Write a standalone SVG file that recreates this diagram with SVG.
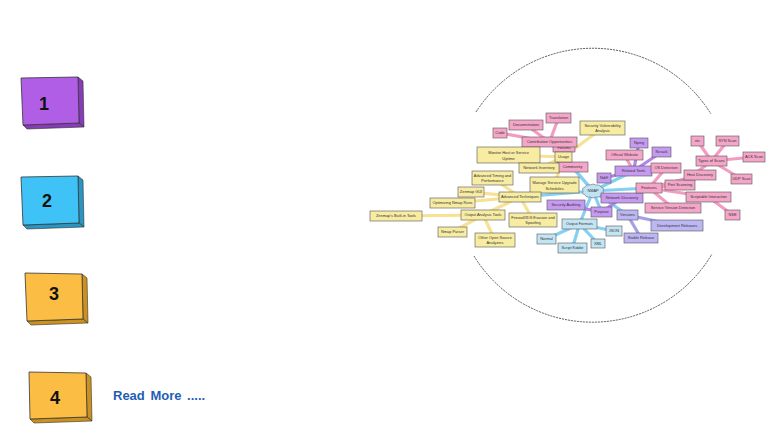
<svg xmlns="http://www.w3.org/2000/svg" width="768" height="432" viewBox="0 0 768 432">
<defs>
<pattern id="hatch" width="2" height="2" patternUnits="userSpaceOnUse" patternTransform="rotate(45)">
<rect width="2" height="2" fill="none"/>
<line x1="0" y1="0" x2="0" y2="2" stroke="#222" stroke-width="0.6" opacity="0.5"/>
</pattern>
</defs>
<style>
.face{stroke:#333;stroke-width:0.8;stroke-linejoin:round}
.side{stroke:#333;stroke-width:0.6}
.num{font-family:"Liberation Sans",Arial,sans-serif;font-weight:bold;font-size:18px;fill:#111;text-anchor:middle}
.more{font-family:"Liberation Sans",Arial,sans-serif;font-weight:bold;font-size:13px;fill:#1f5db5}
.ring{fill:none;stroke:#555;stroke-width:1;stroke-dasharray:2 1}
.n rect{stroke:#555;stroke-width:0.6}
.n text{font-family:"Liberation Sans",Arial,sans-serif;font-size:3.9px;fill:#333;text-anchor:middle}
.pk rect{fill:#f4a6c8}
.yl rect{fill:#f7eca2}
.bl rect{fill:#c3e5f3}
.pu rect{fill:#c69af0}
.lv rect{fill:#bcb6f2}
.e line{stroke-width:3.2;stroke-linecap:round}
.eb{stroke:#85d0f2}
.ey{stroke:#f6e292}
.ep{stroke:#f29cc2}
.eu{stroke:#b385e8}
.el{stroke:#a49fe8}
</style>
<rect width="768" height="432" fill="#fff"/>

<!-- left numbered blocks -->
<g id="box1">
<polygon class="side" points="78,77 83,81 84,127 79,123" fill="#8e3fc4"/>
<polygon class="side" points="23,125 79,123 84,127 27,129" fill="#8e3fc4"/>
<polygon points="78,77 83,81 84,127 79,123" fill="url(#hatch)"/>
<polygon points="23,125 79,123 84,127 27,129" fill="url(#hatch)"/>
<polygon class="face" points="21,78 78,77 79,123 23,125" fill="#b15ee6"/>
<text class="num" x="44" y="110">1</text>
</g>
<g id="box2">
<polygon class="side" points="78,176 83,180 84,227 79,223" fill="#2a9fd0"/>
<polygon class="side" points="23,225 79,223 84,227 27,229" fill="#2a9fd0"/>
<polygon points="78,176 83,180 84,227 79,223" fill="url(#hatch)"/>
<polygon points="23,225 79,223 84,227 27,229" fill="url(#hatch)"/>
<polygon class="face" points="21,177 78,176 79,223 23,225" fill="#3fc3f7"/>
<text class="num" x="47" y="207">2</text>
</g>
<g id="box3">
<polygon class="side" points="82,274 87,278 88,323 83,319" fill="#d99a1f"/>
<polygon class="side" points="27,321 83,319 88,323 31,325" fill="#d99a1f"/>
<polygon points="82,274 87,278 88,323 83,319" fill="url(#hatch)"/>
<polygon points="27,321 83,319 88,323 31,325" fill="url(#hatch)"/>
<polygon class="face" points="25,273 82,274 83,319 27,321" fill="#fbbd43"/>
<text class="num" x="54" y="300">3</text>
</g>
<g id="box4">
<polygon class="side" points="86,373 91,377 92,421 87,417" fill="#d99a1f"/>
<polygon class="side" points="30,419 87,417 92,421 34,423" fill="#d99a1f"/>
<polygon points="86,373 91,377 92,421 87,417" fill="url(#hatch)"/>
<polygon points="30,419 87,417 92,421 34,423" fill="url(#hatch)"/>
<polygon class="face" points="29,372 86,373 87,417 30,419" fill="#fbbd43"/>
<text class="num" x="55" y="404">4</text>
</g>
<text id="readmore" class="more" x="113" y="400" word-spacing="2">Read More .....</text>

<!-- dashed ring -->
<path class="ring" d="M 476,112 A 139 139 0 0 1 711,114"/>
<path class="ring" d="M 474,256 A 139 139 0 0 0 712,254"/>

<!-- connectors -->
<g id="connectors" class="e">
<line class="eb" x1="593" y1="191" x2="563.5" y2="157"/>
<line class="eb" x1="593" y1="191" x2="572.5" y2="167"/>
<line class="eb" x1="593" y1="191" x2="633.5" y2="171"/>
<line class="eb" x1="593" y1="191" x2="649" y2="188"/>
<line class="eb" x1="593" y1="191" x2="601.5" y2="212"/>
<line class="eb" x1="593" y1="191" x2="627.5" y2="215"/>
<line class="eb" x1="593" y1="191" x2="579.5" y2="224"/>
<line class="eb" x1="593" y1="191" x2="520" y2="197"/>
<line class="ey" x1="563.5" y1="157" x2="602.5" y2="128"/>
<line class="ey" x1="563.5" y1="157" x2="508.5" y2="155"/>
<line class="ey" x1="563.5" y1="157" x2="539" y2="168"/>
<line class="ey" x1="563.5" y1="157" x2="554.5" y2="185"/>
<line class="ey" x1="520" y1="197" x2="492.5" y2="178"/>
<line class="ey" x1="520" y1="197" x2="471" y2="192"/>
<line class="ey" x1="520" y1="197" x2="452.5" y2="203"/>
<line class="ey" x1="520" y1="197" x2="483" y2="215"/>
<line class="ey" x1="520" y1="197" x2="533" y2="220"/>
<line class="ey" x1="483" y1="215" x2="396" y2="216"/>
<line class="ey" x1="483" y1="215" x2="452.5" y2="232"/>
<line class="ey" x1="483" y1="215" x2="495" y2="240"/>
<line class="ep" x1="572.5" y1="167" x2="564" y2="147.5"/>
<line class="ep" x1="572.5" y1="167" x2="549.5" y2="142"/>
<line class="ep" x1="549.5" y1="142" x2="526" y2="125"/>
<line class="ep" x1="549.5" y1="142" x2="558.5" y2="118"/>
<line class="ep" x1="549.5" y1="142" x2="500" y2="133"/>
<line class="ep" x1="633.5" y1="171" x2="624.5" y2="155"/>
<line class="eu" x1="633.5" y1="171" x2="639" y2="143"/>
<line class="eu" x1="633.5" y1="171" x2="661.5" y2="152"/>
<line class="eu" x1="633.5" y1="171" x2="604" y2="178"/>
<line class="ep" x1="649" y1="188" x2="666" y2="168"/>
<line class="ep" x1="649" y1="188" x2="680" y2="185"/>
<line class="ep" x1="649" y1="188" x2="700" y2="175"/>
<line class="ep" x1="649" y1="188" x2="673" y2="208"/>
<line class="ep" x1="649" y1="188" x2="708.5" y2="197"/>
<line class="ep" x1="708.5" y1="197" x2="732.5" y2="215"/>
<line class="ep" x1="680" y1="185" x2="711.5" y2="161"/>
<line class="ep" x1="711.5" y1="161" x2="697.5" y2="141"/>
<line class="ep" x1="711.5" y1="161" x2="727.5" y2="141"/>
<line class="ep" x1="711.5" y1="161" x2="754" y2="157"/>
<line class="ep" x1="711.5" y1="161" x2="741.5" y2="179"/>
<line class="eu" x1="601.5" y1="212" x2="566" y2="205"/>
<line class="eu" x1="601.5" y1="212" x2="622" y2="198"/>
<line class="el" x1="627.5" y1="215" x2="677" y2="225.5"/>
<line class="el" x1="627.5" y1="215" x2="641" y2="238"/>
<line class="eb" x1="579.5" y1="224" x2="546.5" y2="239"/>
<line class="eb" x1="579.5" y1="224" x2="614" y2="231"/>
<line class="eb" x1="579.5" y1="224" x2="598" y2="243.5"/>
<line class="eb" x1="579.5" y1="224" x2="572.5" y2="248"/>
</g>

<!-- nodes -->
<g id="nmap" class="n">
<path d="M583,191 q-2,-3 2,-4 q1,-3 5,-2 q3,-2 6,0 q4,-1 5,2 q4,1 2,4 q2,3 -2,4 q-1,3 -5,2 q-3,2 -6,0 q-4,1 -5,-2 q-4,-1 -2,-4 z" fill="#bfe3f2" stroke="#555" stroke-width="0.5"/>
<text x="593" y="192.4">NMAP</text>
</g>
<g id="community" class="n pk"><rect x="557" y="162" width="31" height="10"/><text x="572.5" y="168.4">Community</text></g>
<g id="forums" class="n pk"><rect x="553" y="143" width="22" height="9"/><text x="564" y="148.9">Forums</text></g>
<g id="contrib" class="n pk"><rect x="522" y="137" width="55" height="10"/><text x="549.5" y="143.4">Contribution Opportunities</text></g>
<g id="docs" class="n pk"><rect x="509" y="120" width="34" height="10"/><text x="526" y="126.4">Documentation</text></g>
<g id="transl" class="n pk"><rect x="546" y="113" width="25" height="10"/><text x="558.5" y="119.4">Translation</text></g>
<g id="code" class="n pk"><rect x="493" y="128" width="14" height="10"/><text x="500" y="134.4">Code</text></g>
<g id="offweb" class="n pk"><rect x="606" y="150" width="37" height="10"/><text x="624.5" y="156.4">Official Website</text></g>
<g id="nping" class="n pu"><rect x="630" y="138" width="18" height="10"/><text x="639" y="144.4">Nping</text></g>
<g id="ncrack" class="n pu"><rect x="652" y="147" width="19" height="10"/><text x="661.5" y="153.4">Ncrack</text></g>
<g id="related" class="n pu"><rect x="615" y="166" width="37" height="10"/><text x="633.5" y="172.4">Related Tools</text></g>
<g id="ndiff" class="n pu"><rect x="597" y="173" width="14" height="10"/><text x="604" y="179.4">Ndiff</text></g>
<g id="secvuln" class="n yl"><rect x="580" y="121" width="45" height="14"/><text x="602.5" y="127">Security Vulnerability</text><text x="602.5" y="132">Analysis</text></g>
<g id="usage" class="n yl"><rect x="555" y="152" width="17" height="10"/><text x="563.5" y="158.4">Usage</text></g>
<g id="monitor" class="n yl"><rect x="477" y="147" width="63" height="16"/><text x="508.5" y="154">Monitor Host or Service</text><text x="508.5" y="159.5">Uptime</text></g>
<g id="netinv" class="n yl"><rect x="519" y="163" width="40" height="10"/><text x="539" y="169.4">Network Inventory</text></g>
<g id="manage" class="n yl"><rect x="530" y="177" width="49" height="16"/><text x="554.5" y="184">Manage Service Upgrade</text><text x="554.5" y="189.5">Schedules</text></g>
<g id="advtiming" class="n yl"><rect x="472" y="171" width="41" height="14"/><text x="492.5" y="177">Advanced Timing and</text><text x="492.5" y="182">Performance</text></g>
<g id="zenmap" class="n yl"><rect x="458" y="187" width="26" height="10"/><text x="471" y="193.4">Zenmap GUI</text></g>
<g id="advtech" class="n yl"><rect x="499" y="192" width="42" height="10"/><text x="520" y="198.4">Advanced Techniques</text></g>
<g id="optim" class="n yl"><rect x="430" y="198" width="45" height="10"/><text x="452.5" y="204.4">Optimizing Nmap Runs</text></g>
<g id="outanal" class="n yl"><rect x="461" y="210" width="44" height="10"/><text x="483" y="216.4">Output Analysis Tools</text></g>
<g id="zbuilt" class="n yl"><rect x="370" y="211" width="52" height="10"/><text x="396" y="217.4">Zenmap's Built-in Tools</text></g>
<g id="nparser" class="n yl"><rect x="438" y="227" width="29" height="10"/><text x="452.5" y="233.4">Nmap Parser</text></g>
<g id="firewall" class="n yl"><rect x="509" y="213" width="48" height="14"/><text x="533" y="219">Firewall/IDS Evasion and</text><text x="533" y="224">Spoofing</text></g>
<g id="otheros" class="n yl"><rect x="475" y="233" width="40" height="14"/><text x="495" y="239">Other Open Source</text><text x="495" y="244">Analyzers</text></g>
<g id="secaudit" class="n pu"><rect x="547" y="200" width="38" height="10"/><text x="566" y="206.4">Security Auditing</text></g>
<g id="outfmt" class="n bl"><rect x="562" y="219" width="35" height="10"/><text x="579.5" y="225.4">Output Formats</text></g>
<g id="normal" class="n bl"><rect x="537" y="234" width="19" height="10"/><text x="546.5" y="240.4">Normal</text></g>
<g id="json" class="n bl"><rect x="606" y="226" width="16" height="10"/><text x="614" y="232.4">JSON</text></g>
<g id="xml" class="n bl"><rect x="591" y="239" width="14" height="9"/><text x="598" y="244.9">XML</text></g>
<g id="scriptk" class="n bl"><rect x="558" y="243" width="29" height="10"/><text x="572.5" y="249.4">Script Kiddie</text></g>
<g id="netdisc" class="n pu"><rect x="601" y="193" width="42" height="10"/><text x="622" y="199.4">Network Discovery</text></g>
<g id="purpose" class="n pu"><rect x="591" y="207" width="21" height="10"/><text x="601.5" y="213.4">Purpose</text></g>
<g id="versions" class="n lv"><rect x="617" y="210" width="21" height="10"/><text x="627.5" y="216.4">Versions</text></g>
<g id="devrel" class="n lv"><rect x="651" y="220" width="52" height="11"/><text x="677" y="226.9">Development Releases</text></g>
<g id="stable" class="n lv"><rect x="624" y="233" width="34" height="10"/><text x="641" y="239.4">Stable Release</text></g>
<g id="features" class="n pk"><rect x="636" y="183" width="26" height="10"/><text x="649" y="189.4">Features</text></g>
<g id="osdet" class="n pk"><rect x="651" y="163" width="30" height="10"/><text x="666" y="169.4">OS Detection</text></g>
<g id="portscan" class="n pk"><rect x="665" y="180" width="30" height="10"/><text x="680" y="186.4">Port Scanning</text></g>
<g id="hostdisc" class="n pk"><rect x="684" y="170" width="32" height="10"/><text x="700" y="176.4">Host Discovery</text></g>
<g id="svd" class="n pk"><rect x="645" y="203" width="56" height="10"/><text x="673" y="209.4">Service Version Detection</text></g>
<g id="scriptable" class="n pk"><rect x="686" y="192" width="45" height="10"/><text x="708.5" y="198.4">Scriptable Interaction</text></g>
<g id="nse" class="n pk"><rect x="725" y="210" width="15" height="10"/><text x="732.5" y="216.4">NSE</text></g>
<g id="types" class="n pk"><rect x="696" y="156" width="31" height="10"/><text x="711.5" y="162.4">Types of Scans</text></g>
<g id="etc" class="n pk"><rect x="691" y="136" width="13" height="10"/><text x="697.5" y="142.4">etc</text></g>
<g id="syn" class="n pk"><rect x="716" y="136" width="23" height="10"/><text x="727.5" y="142.4">SYN Scan</text></g>
<g id="ack" class="n pk"><rect x="743" y="152" width="22" height="10"/><text x="754" y="158.4">ACK Scan</text></g>
<g id="udp" class="n pk"><rect x="731" y="174" width="21" height="10"/><text x="741.5" y="180.4">UDP Scan</text></g>
</svg>
